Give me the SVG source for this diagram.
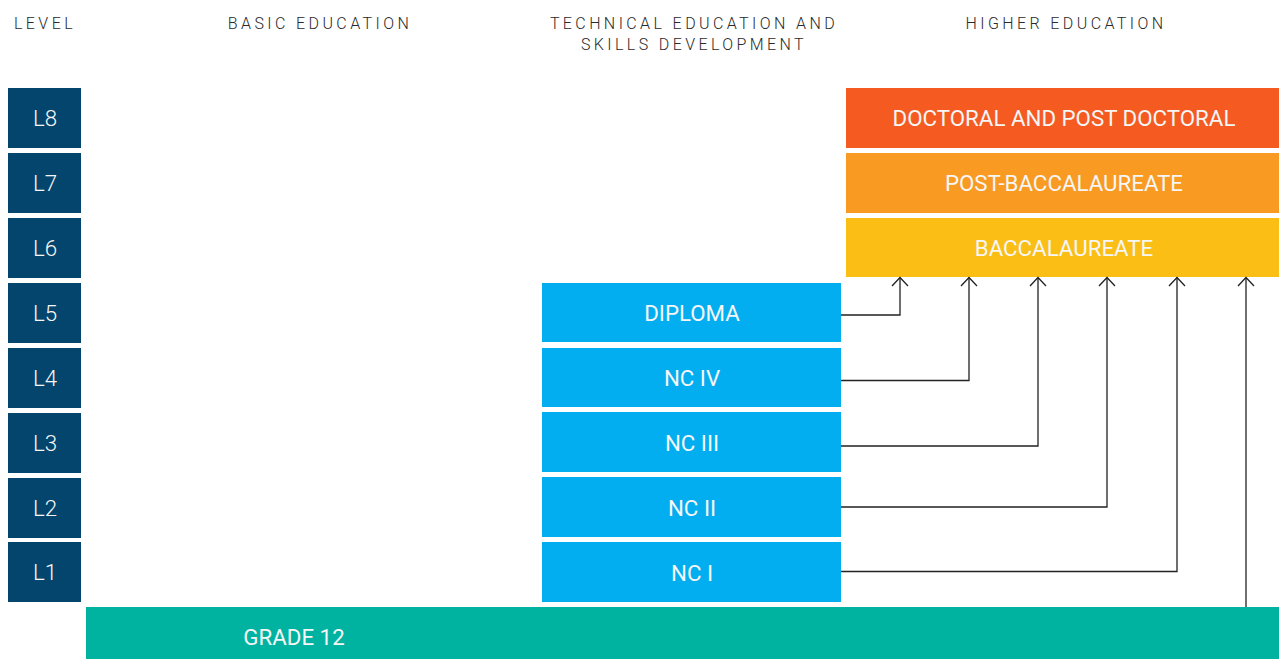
<svg xmlns="http://www.w3.org/2000/svg" width="1279" height="659" viewBox="0 0 1279 659">
  <defs>
    <style>
      .hdr { font-family: Roboto, "Liberation Sans", sans-serif; font-size: 16px; font-weight: 300; fill: #2a2a2a; letter-spacing: 3.4px; text-anchor: middle; }
      .lvl rect { fill: #03456d; }
      .lbl { font-family: Roboto, "Liberation Sans", sans-serif; font-size: 22.3px; font-weight: 400; fill: #f6f6f6; text-anchor: middle; dominant-baseline: central; }
      .lvl .lbl { font-weight: 300; }
      .tesd rect { fill: #03aef0; }
      .conn { fill: none; stroke: #222; stroke-width: 1.3; }
    </style>
    <marker id="open" viewBox="0 0 12 18" refX="10.5" refY="9" markerWidth="12" markerHeight="18" markerUnits="userSpaceOnUse" orient="auto">
      <path d="M2,1 L10.5,9 L2,17" fill="none" stroke="#222" stroke-width="1.3"/>
    </marker>
  </defs>

  <rect width="1279" height="659" fill="#ffffff"/>

  <!-- column headings -->
  <g id="headings">
    <text class="hdr" x="45" y="29">LEVEL</text>
    <text class="hdr" x="320" y="29">BASIC EDUCATION</text>
    <text class="hdr" x="694" y="29">TECHNICAL EDUCATION AND</text>
    <text class="hdr" x="694" y="50">SKILLS DEVELOPMENT</text>
    <text class="hdr" x="1066" y="29">HIGHER EDUCATION</text>
  </g>

  <!-- level column -->
  <g id="L8" class="lvl"><rect x="8" y="88" width="73" height="60"/><text class="lbl" x="45" y="118">L8</text></g>
  <g id="L7" class="lvl"><rect x="8" y="153" width="73" height="60"/><text class="lbl" x="45" y="183">L7</text></g>
  <g id="L6" class="lvl"><rect x="8" y="218" width="73" height="60"/><text class="lbl" x="45" y="248">L6</text></g>
  <g id="L5" class="lvl"><rect x="8" y="283" width="73" height="60"/><text class="lbl" x="45" y="313">L5</text></g>
  <g id="L4" class="lvl"><rect x="8" y="348" width="73" height="60"/><text class="lbl" x="45" y="378">L4</text></g>
  <g id="L3" class="lvl"><rect x="8" y="413" width="73" height="60"/><text class="lbl" x="45" y="443">L3</text></g>
  <g id="L2" class="lvl"><rect x="8" y="478" width="73" height="60"/><text class="lbl" x="45" y="508">L2</text></g>
  <g id="L1" class="lvl"><rect x="8" y="542" width="73" height="60"/><text class="lbl" x="45" y="572">L1</text></g>

  <!-- higher education -->
  <g id="doctoral"><rect x="846" y="88" width="433" height="60" fill="#f55b20"/><text class="lbl" x="1064" y="118">DOCTORAL AND POST DOCTORAL</text></g>
  <g id="post-baccalaureate"><rect x="846" y="153" width="433" height="60" fill="#f99a22"/><text class="lbl" x="1064" y="183">POST-BACCALAUREATE</text></g>
  <g id="baccalaureate"><rect x="846" y="218" width="433" height="59" fill="#fbbe15"/><text class="lbl" x="1064" y="248">BACCALAUREATE</text></g>

  <!-- technical education and skills development -->
  <g id="diploma" class="tesd"><rect x="542" y="283" width="299" height="59"/><text class="lbl" x="692" y="313">DIPLOMA</text></g>
  <g id="nc4" class="tesd"><rect x="542" y="348" width="299" height="59"/><text class="lbl" x="692" y="378">NC IV</text></g>
  <g id="nc3" class="tesd"><rect x="542" y="412" width="299" height="60"/><text class="lbl" x="692" y="443">NC III</text></g>
  <g id="nc2" class="tesd"><rect x="542" y="477" width="299" height="60"/><text class="lbl" x="692" y="508">NC II</text></g>
  <g id="nc1" class="tesd"><rect x="542" y="542" width="299" height="60"/><text class="lbl" x="692" y="573">NC I</text></g>

  <!-- basic education -->
  <g id="grade12"><rect x="86" y="607" width="1193" height="52" fill="#00b3a0"/><text class="lbl" x="294" y="637">GRADE 12</text></g>

  <!-- pathways into baccalaureate -->
  <g id="connectors">
    <path class="conn" d="M841,315 H900 V277.5" marker-end="url(#open)"/>
    <path class="conn" d="M841,380.5 H969 V277.5" marker-end="url(#open)"/>
    <path class="conn" d="M841,446 H1038 V277.5" marker-end="url(#open)"/>
    <path class="conn" d="M841,507 H1107 V277.5" marker-end="url(#open)"/>
    <path class="conn" d="M841,571.5 H1177 V277.5" marker-end="url(#open)"/>
    <path class="conn" d="M1246,607 V277.5" marker-end="url(#open)"/>
  </g>
</svg>
